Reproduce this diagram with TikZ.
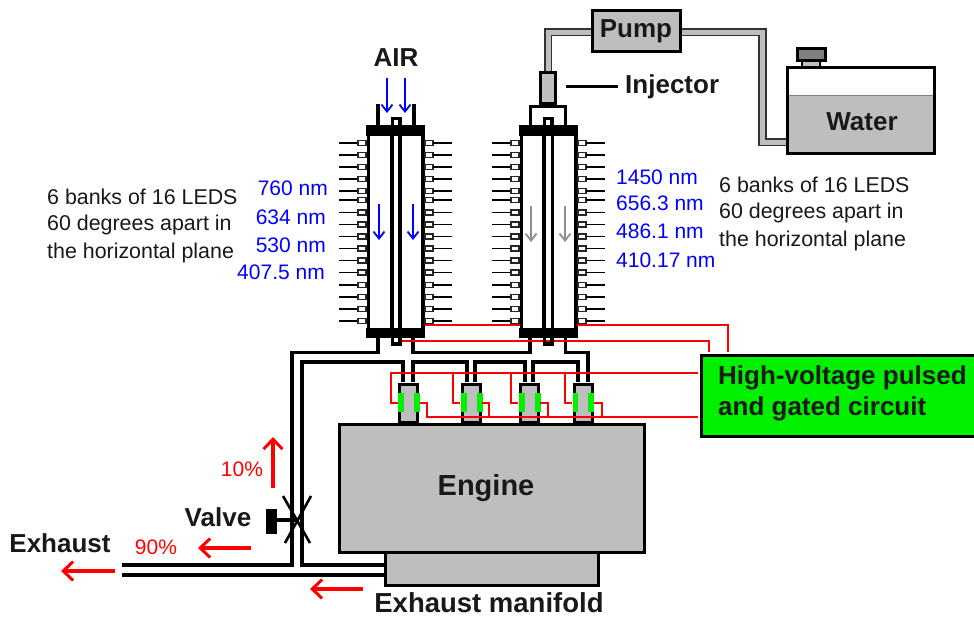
\documentclass[tikz,border=0pt]{standalone}
\usepackage{fontspec}
\setmainfont{Liberation Sans}
\usetikzlibrary{arrows.meta}
\definecolor{gr}{HTML}{BEBEBE}
\definecolor{dgr}{HTML}{808080}
\definecolor{grn}{HTML}{00F000}
\definecolor{rd}{HTML}{FF0000}
\definecolor{bl}{HTML}{0000FF}
\tikzset{
 lab/.style={font=\fontsize{26}{26}\selectfont\bfseries,inner sep=0pt,text=black!90},
 note/.style={font=\fontsize{21.4}{21.4}\selectfont,inner sep=0pt,anchor=west,text=black!90},
 wl/.style={font=\fontsize{21}{21}\selectfont,inner sep=0pt,text=bl},
 pct/.style={font=\fontsize{21}{21}\selectfont,inner sep=0pt,text=rd},
 pipeline/.style={line width=3.2pt,black,line join=miter},
 wall/.style={line width=3.2pt,black},
 fine/.style={line width=1.9pt,draw=black},
 boxy/.style={line width=1.5pt,draw=black!85,fill=white},
 tube/.style={line width=1.6pt,draw=black!80,double=gr,double distance=5pt,line join=miter},
 wire/.style={line width=1.4pt,rd},
 redarrow/.style={line width=3.2pt,rd,-{Straight Barb[length=10pt,width=19pt,line width=3pt]}},
 smallarrow/.style={line width=1.8pt,-{Straight Barb[length=7pt,width=11pt,line width=1.8pt]}},
}
\newcommand{\reactor}[3]{% left cap x, inner-left x, inner-right x
 \fill[black] (#1,125) rectangle ++(59,11);
 \fill[black] (#1,328) rectangle ++(59,10);
 \draw[wall] (#1+2.5,136) -- (#1+2.5,328);
 \draw[wall] (#1+57,136) -- (#1+57,328);
 \draw[wall] (#2,136) -- (#2,328);
 \draw[wall] (#3,136) -- (#3,328);
 \foreach \yy in {143,155,167,179,191,200,212.5,224.5,236.5,248.5,260.5,272.5,285,297,309,321}{
  \draw[fine] (#1-27,\yy) -- (#1-8,\yy);
  \draw[boxy] (#1-8,\yy-2.7) rectangle (#1,\yy+2.7);
  \draw[boxy] (#1+59,\yy-2.7) rectangle (#1+67,\yy+2.7);
  \draw[fine] (#1+67,\yy) -- (#1+86,\yy);
 }
}
\begin{document}
\begin{tikzpicture}[x=1pt,y=-1pt]
\useasboundingbox (0,0) rectangle (974,619);
\fill[white] (0,0) rectangle (974,619);

% fluid lines
\draw[tube] (548,71) -- (548,32) -- (591,32);
\draw[tube] (682,32) -- (762.5,32) -- (762.5,142) -- (787,142);

% reactors
\reactor{366}{392}{400}
\reactor{519}{544}{552.5}

% top of left reactor
\draw[wall] (378,125) -- (378,104);
\draw[wall] (414,125) -- (414,104);
\draw[wall] (392.5,125) |- (400,118.5) -- (400,125);
% top of right reactor
\draw[wall] (530.5,125) |- (565.5,106.5) -- (565.5,125);
\draw[wall] (544.5,125) |- (552,118.5) -- (552,125);
\node[draw=black,line width=3pt,fill=gr,minimum width=15pt,minimum height=31pt,inner sep=0pt] (injector) at (548,88) {};
\coordinate (injend) at (618,86);
\draw[line width=3pt] (566,86) -- (injend);

% pump and tank
\node[draw=black,line width=3pt,fill=gr,minimum width=88pt,minimum height=41pt,inner sep=0pt] (pump) at (636.5,31) {};
\fill[gr] (787,95) rectangle (934,153);
\draw[line width=1pt,dgr] (787,95) -- (934,95);
\draw[line width=3pt] (787,67) rectangle (934,153);
\draw[line width=1.5pt,fill=gr] (802,61) rectangle (820,67);
\draw[line width=3pt,fill=dgr] (797,48) rectangle (825,60);

% engine & manifold
\draw[line width=3pt,fill=gr] (385.5,552) rectangle (598,585);
\draw[line width=3pt,fill=gr] (339,424.5) rectangle (644.5,552);

% air and exhaust piping
\draw[pipeline] (378,338) -- (378,352.5) -- (292,352.5) -- (292,565) -- (122,565);
\draw[pipeline] (403,382) -- (403,362) -- (302,362) -- (302,565) -- (385,565);
\draw[pipeline] (122,575) -- (385,575);
\draw[pipeline] (413,338) -- (413,352.5) -- (530,352.5) -- (530,338);
\draw[pipeline] (413,382) -- (413,362) -- (467,362) -- (467,382);
\draw[pipeline] (475,382) -- (475,362) -- (525,362) -- (525,382);
\draw[pipeline] (533,382) -- (533,362) -- (578,362) -- (578,382);
\draw[pipeline] (588,382) -- (588,352.5) -- (565.5,352.5) -- (565.5,338);

% cylinders
\foreach \cx/\nm in {408.5/a,471.5/b,529.5/c,583/d}{
 \node[draw=black,line width=3pt,fill=gr,minimum width=18pt,minimum height=38pt,inner sep=0pt] (cyl\nm) at (\cx,403) {};
 \fill[grn] (\cx-10.5,393) rectangle (\cx-5,412);
 \fill[grn] (\cx+5,393) rectangle (\cx+11,412);
}

% green box (runs off the right edge)
\node[draw=black,line width=3pt,fill=grn,minimum width=285pt,minimum height=81pt,inner sep=0pt,anchor=north west] (circuit) at (699.5,353.5) {};
\node[font=\fontsize{26}{31.5}\selectfont\bfseries,align=left,inner sep=0pt,anchor=north west,text=black!90] (circuittext) at (718,365) {High-voltage pulsed\\and gated circuit};

% wires
\draw[wire] (425,325) -- (520,325);
\draw[wire] (577,325) -- (728,325) -- (728,352);
\draw[wire] (400,341) -- (709,341) -- (709,352);
\draw[wire] (698,373) -- (391,373) -- (391,403) -- (398,403);
\draw[wire] (453,373) -- (453,403) -- (460,403);
\draw[wire] (511,373) -- (511,403) -- (518,403);
\draw[wire] (565,373) -- (565,403) -- (572,403);
\draw[wire] (698,417) -- (427,417) -- (427,403) -- (420,403);
\draw[wire] (489,417) -- (489,403) -- (482,403);
\draw[wire] (548,417) -- (548,403) -- (540,403);
\draw[wire] (602,417) -- (602,403) -- (594,403);

% lower stubs over wires
\draw[wall] (392.5,338) |- (400,344) -- (400,338);
\draw[wall] (544.5,338) |- (552,344) -- (552,338);

% valve
\draw[line width=2.6pt] (283,496) -- (310,543);
\draw[line width=2.6pt] (311,496) -- (285,543);
\draw[line width=3.2pt] (277,520) -- (296,520);
\fill[black] (266,509) rectangle (277,534);

% flow arrows
\draw[smallarrow,bl] (387,78) -- (387,113);
\draw[smallarrow,bl] (405,78) -- (405,113);
\draw[smallarrow,bl] (379,204) -- (379,240);
\draw[smallarrow,bl] (413,204) -- (413,240);
\draw[smallarrow,gr!75!black] (531,206) -- (531,242);
\draw[smallarrow,gr!75!black] (565,206) -- (565,242);
\draw[redarrow] (273,488) -- (273,437);
\draw[redarrow] (251,548) -- (198,548);
\draw[redarrow] (115,571) -- (61,571);
\draw[redarrow] (363,589) -- (310,589);

% labels
\node[lab] (air) at (396,58) {AIR};
\node[lab] (pumplab) at (636,31) {Pump};
\node[lab,anchor=west] (injlab) at (625,87) {Injector};
\node[lab] (water) at (862,122) {Water};
\node[lab,font=\fontsize{29}{29}\selectfont\bfseries] (engine) at (486,488) {Engine};
\node[lab] (valve) at (218,517) {Valve};
\node[lab] (exhaust) at (60,543) {Exhaust};
\node[lab,font=\fontsize{27.5}{28}\selectfont\bfseries] (manifold) at (489,603) {Exhaust manifold};
\node[pct] (p10) at (242,469) {10\%};
\node[pct] (p90) at (156,547) {90\%};

\node[note] (n1) at (47,197) {6 banks of 16 LEDS};
\node[note] (n2) at (47,225) {60 degrees apart in};
\node[note] (n3) at (47,253) {the horizontal plane};
\node[note] (n4) at (719,185) {6 banks of 16 LEDS};
\node[note] (n5) at (719,213) {60 degrees apart in};
\node[note] (n6) at (719,241) {the horizontal plane};

\node[wl,anchor=east] (w1) at (328,188) {760 nm};
\node[wl,anchor=east] (w2) at (326,217) {634 nm};
\node[wl,anchor=east] (w3) at (326,245) {530 nm};
\node[wl,anchor=east] (w4) at (325,272) {407.5 nm};
\node[wl,anchor=west] (w5) at (616,177) {1450 nm};
\node[wl,anchor=west] (w6) at (616,203) {656.3 nm};
\node[wl,anchor=west] (w7) at (616,231) {486.1 nm};
\node[wl,anchor=west] (w8) at (616,260) {410.17 nm};
\end{tikzpicture}
\end{document}
